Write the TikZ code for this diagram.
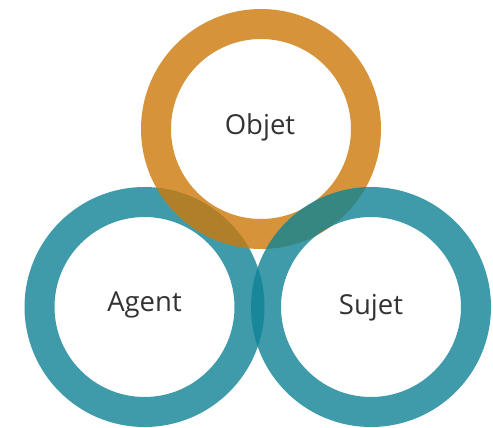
\documentclass[tikz,border=0pt]{standalone}
\usepackage{fontspec}
\setmainfont{Open Sans}
\definecolor{ringteal}{RGB}{15,131,149}
\definecolor{ringorange}{RGB}{204,121,9}
\begin{document}
\begin{tikzpicture}[x=1pt,y=-1pt,
  ring/.style={line width=30pt,draw opacity=0.8},
  lbl/.style={font=\fontsize{27.5}{32}\selectfont,text=black!80,inner sep=0pt}]
\useasboundingbox[fill=white] (0,0) rectangle (493,428);
\coordinate (ca) at (144.5,307);
\coordinate (co) at (261,129);
\coordinate (cs) at (371,307);
\draw[ring,draw=ringteal] (ca) circle[radius=105];
\draw[ring,draw=ringorange] (co) circle[radius=105];
\draw[ring,draw=ringteal] (cs) circle[radius=105];
\node[lbl] (objet) at (260,127) {Objet};
\node[lbl] (agent) at (144.5,305) {Agent};
\node[lbl] (sujet) at (371,308) {Sujet};
\end{tikzpicture}
\end{document}
